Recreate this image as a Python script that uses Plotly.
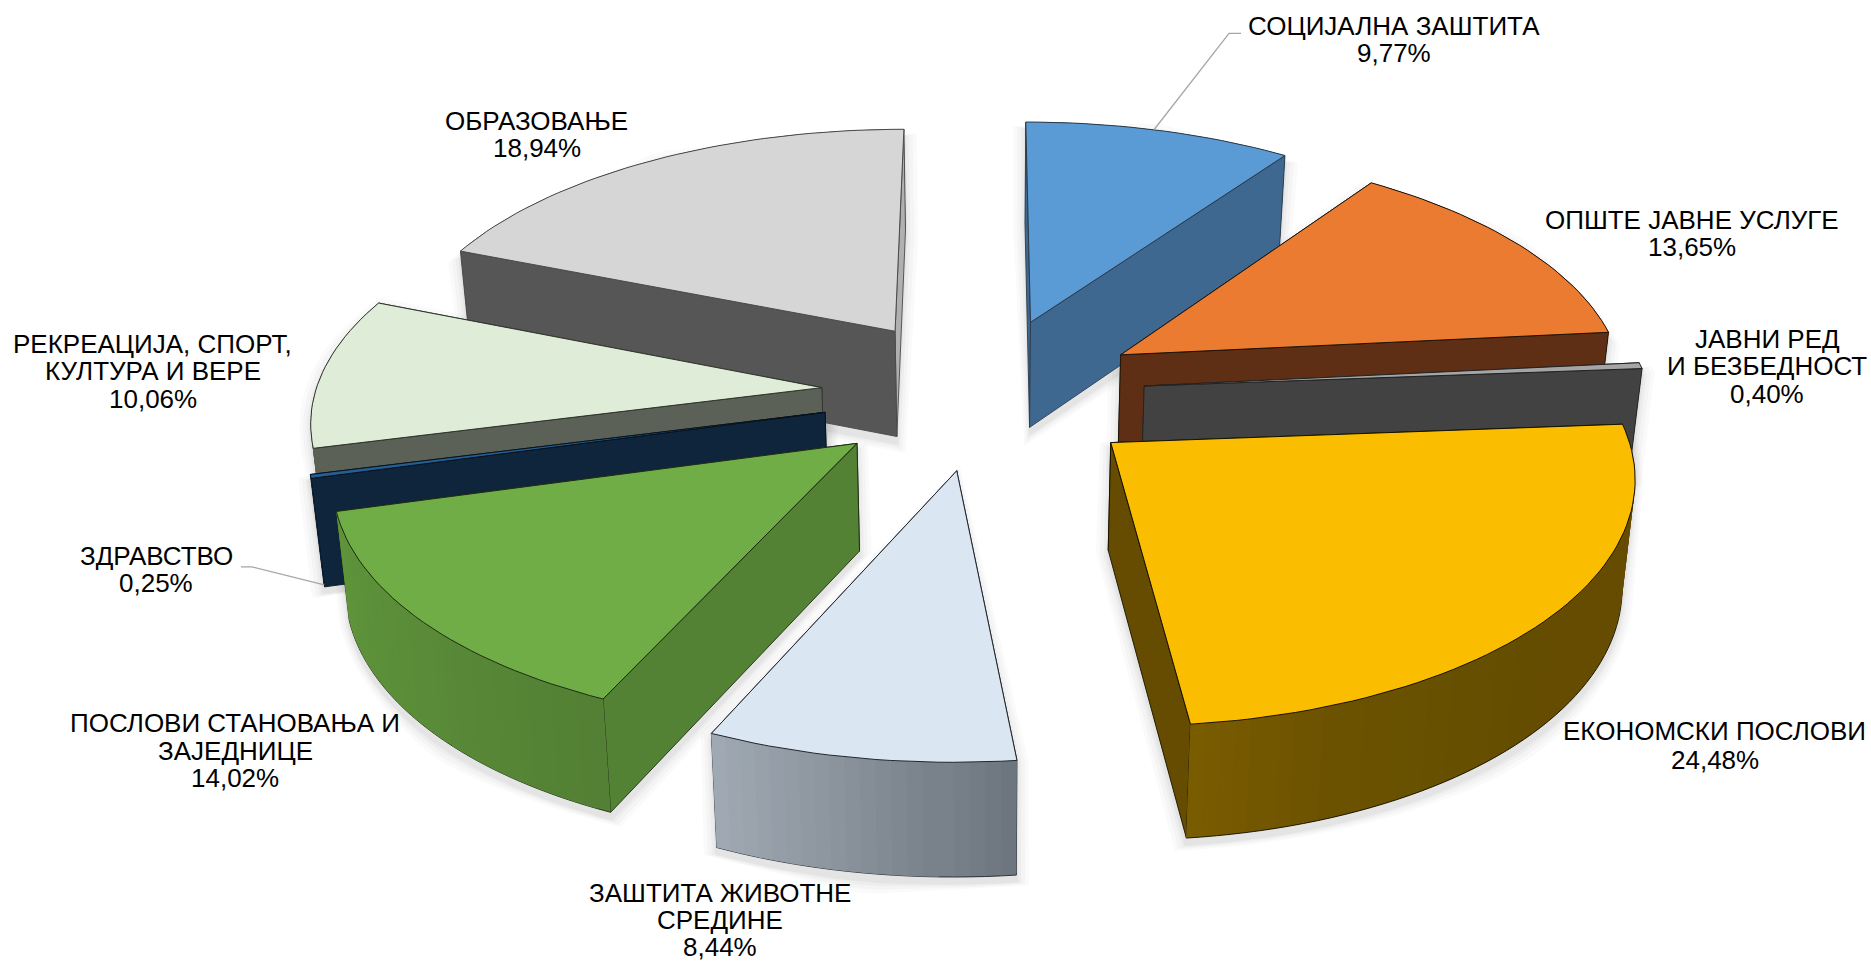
import math
import plotly.graph_objects as go

# ---- data ----
categories = ["СОЦИЈАЛНА ЗАШТИТА", "ОПШТЕ ЈАВНЕ УСЛУГЕ", "ЈАВНИ РЕД И БЕЗБЕДНОСТ",
              "ЕКОНОМСКИ ПОСЛОВИ", "ЗАШТИТА ЖИВОТНЕ СРЕДИНЕ", "ПОСЛОВИ СТАНОВАЊА И ЗАЈЕДНИЦЕ",
              "ЗДРАВСТВО", "РЕКРЕАЦИЈА, СПОРТ, КУЛТУРА И ВЕРЕ", "ОБРАЗОВАЊЕ"]
values = [9.77, 13.65, 0.40, 24.48, 8.44, 14.02, 0.25, 10.06, 18.94]
value_labels = ["9,77%", "13,65%", "0,40%", "24,48%", "8,44%", "14,02%", "0,25%", "10,06%", "18,94%"]

# ---- colours ----
top_colors = ["#5b9bd5", "#ea7b30", "#a5a5a5", "#fbbd00", "#dae6f2", "#70ad47", "#255e91", "#dfecd8", "#d6d6d6"]
side_colors = ["#3e6890", "#5e2f14", "#424242", "#654c00", "#6b737c", "#548235", "#0f253c", "#5b6156", "#565656"]
end_face_colors = ["#3e6890", "#5e2f14", "#424242", "#654c00", "#6b737c", "#548235", "#0f253c", "#5b6156", "#b0b0b0"]
# wall shading along the arc, evenly spaced stops from start to end of the slice
wall_stops = [("#3e6890",), ("#5e2f14",), ("#424242",),
              ("#654c00", "#654c00", "#654c00", "#654c00", "#665000", "#6c5200", "#7a5c00"),
              ("#6b737c", "#8a929b", "#a3adb7"),
              ("#538034", "#5a8c38", "#5f953b"), ("#0f253c",), ("#5b6156",), ("#565656",)]
edge_colors = ["#2b3b4a", "#1e1408", "#222222", "#141000", "#22262c", "#1c2a12", "#08121e", "#30342c", "#4a4a4a"]

# ---- label layout (one entry per text line, centre x / centre y in pixels) ----
SC = 1871 / 1568
label_lines = [
    ("СОЦИЈАЛНА ЗАШТИТА", 1168, 21.5), ("9,77%", 1168, 44.5),
    ("ОПШТЕ ЈАВНЕ УСЛУГЕ", 1418, 184), ("13,65%", 1418, 207),
    ("ЈАВНИ РЕД", 1481, 284), ("И БЕЗБЕДНОСТ", 1481, 307), ("0,40%", 1481, 330),
    ("ЕКОНОМСКИ ПОСЛОВИ", 1437, 613), ("24,48%", 1437, 637),
    ("ЗАШТИТА ЖИВОТНЕ", 603, 748), ("СРЕДИНЕ", 603, 771), ("8,44%", 603, 794),
    ("ПОСЛОВИ СТАНОВАЊА И", 197, 606), ("ЗАЈЕДНИЦЕ", 197, 629), ("14,02%", 197, 652),
    ("ЗДРАВСТВО", 131, 466), ("0,25%", 131, 489),
    ("РЕКРЕАЦИЈА, СПОРТ,", 128, 288), ("КУЛТУРА И ВЕРЕ", 128, 311), ("10,06%", 128, 334),
    ("ОБРАЗОВАЊЕ", 450, 101), ("18,94%", 450, 124),
]

# ---- projection of the exploded 3-D pie ----
CX, CY = 824 * SC, 329 * SC
S0 = 424.5 * SC
K = 0.4707
P = 0.115
EXPLODE = 0.32
SHRINK = 0.02
H_BASE, H_SLOPE = 61.0, 0.09


def project(X, Y, bottom=False):
    s = S0 / (1 + P * Y)
    if bottom:
        f = 1 - SHRINK
        return CX + s * f * X, CY - s * K * Y + H_BASE + H_SLOPE * s
    return CX + s * X, CY - s * K * Y


def hull(pts):
    pts = sorted(set(pts))
    def cross(o, a, b):
        return (a[0]-o[0])*(b[1]-o[1]) - (a[1]-o[1])*(b[0]-o[0])
    lo, up = [], []
    for p in pts:
        while len(lo) >= 2 and cross(lo[-2], lo[-1], p) <= 0:
            lo.pop()
        lo.append(p)
    for p in reversed(pts):
        while len(up) >= 2 and cross(up[-2], up[-1], p) <= 0:
            up.pop()
        up.append(p)
    return lo[:-1] + up[:-1]


def hex2rgb(h):
    return tuple(int(h[i:i+2], 16) for i in (1, 3, 5))


def mix(stops, t):
    if len(stops) == 1:
        return stops[0]
    pos = t * (len(stops) - 1)
    k = min(int(pos), len(stops) - 2)
    u = pos - k
    ca, cb = hex2rgb(stops[k]), hex2rgb(stops[k + 1])
    return "rgb(%d,%d,%d)" % tuple(round(ca[i] + (cb[i] - ca[i]) * u) for i in range(3))


fig = go.Figure()


def poly(pts, fill, line=None, width=0.0):
    xs = [p[0] for p in pts] + [pts[0][0]]
    ys = [p[1] for p in pts] + [pts[0][1]]
    fig.add_trace(go.Scatter(x=xs, y=ys, mode="lines", fill="toself", fillcolor=fill,
                             line=dict(color=line or fill, width=width),
                             hoverinfo="skip", showlegend=False))


def path(pts, color, width=1.0):
    fig.add_trace(go.Scatter(x=[p[0] for p in pts], y=[p[1] for p in pts], mode="lines",
                             line=dict(color=color, width=width), hoverinfo="skip", showlegend=False))


total = sum(values)
slices = []
cum = 0.0
for i, v in enumerate(values):
    a0 = cum / total * 2 * math.pi
    cum += v
    a1 = cum / total * 2 * math.pi
    mid = (a0 + a1) / 2
    ax, ay = EXPLODE * math.sin(mid), EXPLODE * math.cos(mid)
    n = max(2, int(math.degrees(a1 - a0) / 1.5))
    world = [(ax + math.sin(a0 + (a1 - a0) * j / n), ay + math.cos(a0 + (a1 - a0) * j / n)) for j in range(n + 1)]
    slices.append(dict(i=i, ax=ax, ay=ay, world=world, n=n))

# soft drop shadows below everything
for sl in slices:
    pts = [project(sl["ax"], sl["ay"]), project(sl["ax"], sl["ay"], True)]
    pts += [project(*w) for w in sl["world"]] + [project(*w, True) for w in sl["world"]]
    h = hull(pts)
    mx = sum(p[0] for p in h) / len(h)
    my = sum(p[1] for p in h) / len(h)
    for d, alpha in ((13, 0.018), (9, 0.022), (5, 0.028), (2, 0.035)):
        grown = []
        for x, y in h:
            r = math.hypot(x - mx, y - my) or 1
            grown.append((x + (x - mx) / r * d, y + (y - my) / r * d + 7))
        poly(grown, "rgba(0,0,0,%.3f)" % alpha)

# slices, back to front
for sl in sorted(slices, key=lambda s: -s["ay"]):
    i, world, n = sl["i"], sl["world"], sl["n"]
    apex = (sl["ax"], sl["ay"])
    edge = edge_colors[i]
    faces = []
    faces.append(((apex[1] + world[0][1]) / 2, "radial", world[0], side_colors[i]))
    faces.append(((apex[1] + world[-1][1]) / 2, "radial", world[-1], end_face_colors[i]))
    for j in range(n):
        faces.append(((world[j][1] + world[j + 1][1]) / 2, "wall", j, None))
    for _, kind, w, col in sorted(faces, key=lambda f: -f[0]):
        if kind == "radial":
            poly([project(*apex), project(*w), project(*w, True), project(*apex, True)],
                 col, edge, 0.9)
        else:
            j = w
            c = mix(wall_stops[i], (j + 0.5) / n)
            j2 = min(j + 2, n)
            poly([project(*world[j]), project(*world[j2]),
                  project(*world[j2], True), project(*world[j], True)], c, c, 0)
            path([project(*world[j], True), project(*world[j + 1], True)], edge, 0.9)
    # top face
    poly([project(*apex)] + [project(*q) for q in world], top_colors[i], edge, 1.0)

# leader lines
soc, hlt = slices[0], slices[6]
soc_end = project(*soc["world"][soc["n"] // 2])
hlt_end = project(*hlt["world"][hlt["n"] // 2], True)
path([(1040 * SC, 28 * SC), (1030 * SC, 28 * SC), soc_end], "#a6a6a6", 1.3)
path([(202 * SC, 475 * SC), (211 * SC, 475 * SC), hlt_end], "#a6a6a6", 1.3)

annotations = [dict(x=x * SC, y=y * SC, xref="x", yref="y", text=t, showarrow=False,
                    xanchor="center", yanchor="middle",
                    font=dict(family="Liberation Sans", size=26, color="#000000"))
               for t, x, y in label_lines]

fig.update_layout(
    width=1871, height=962, autosize=False,
    margin=dict(l=0, r=0, t=0, b=0),
    paper_bgcolor="white", plot_bgcolor="white", showlegend=False,
    xaxis=dict(range=[0, 1871], visible=False, fixedrange=True),
    yaxis=dict(range=[962, 0], visible=False, fixedrange=True),
    annotations=annotations,
)
fig.write_html("out.html", post_script="document.body.style.margin='0';document.body.style.overflow='hidden';",
               config={"displayModeBar": False})
